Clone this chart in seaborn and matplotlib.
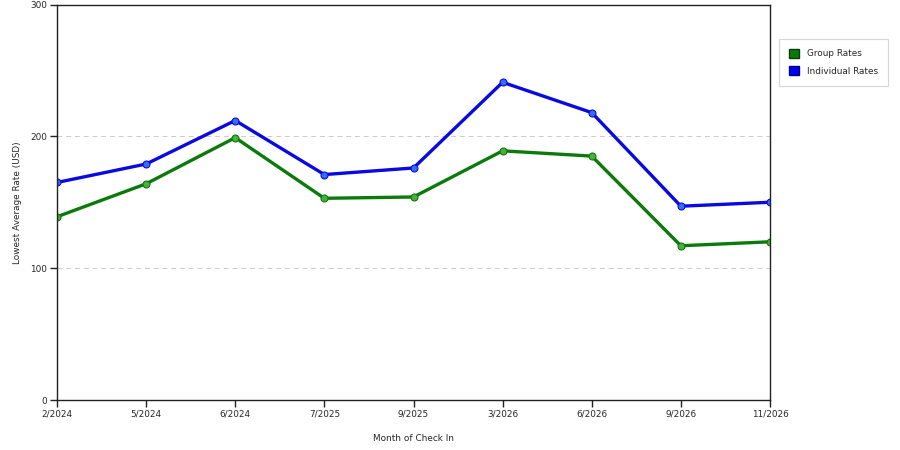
import matplotlib

matplotlib.use("Agg")
import matplotlib.pyplot as plt
import pandas as pd
import seaborn as sns
from matplotlib.patches import Patch

# ----------------------------------------------------------------------
# Data
# ----------------------------------------------------------------------
months = ["2/2024", "5/2024", "6/2024", "7/2025", "9/2025",
          "3/2026", "6/2026", "9/2026", "11/2026"]
group_rates = [139, 164, 199, 153, 154, 189, 185, 117, 120]
individual_rates = [165, 179, 212, 171, 176, 241, 218, 147, 150]
y_ticks = [0, 100, 200, 300]

GREEN = "#0b7a0b"
BLUE = "#0a0ae0"
FS = 6.4

sns.set_theme(style="white")
plt.rcParams["font.family"] = ["DejaVu Sans"]

df = pd.DataFrame({
    "pos": list(range(len(months))) * 2,
    "rate": group_rates + individual_rates,
    "series": ["Group Rates"] * len(months) + ["Individual Rates"] * len(months),
})

fig = plt.figure(figsize=(9, 4.5), dpi=100)
ax = fig.add_axes([57 / 900, 50 / 450, 713 / 900, 395.5 / 450])

sns.lineplot(
    data=df, x="pos", y="rate", hue="series",
    palette={"Group Rates": GREEN, "Individual Rates": BLUE},
    linewidth=2.4, marker="o", markersize=5,
    markeredgewidth=0.8, legend=False, ax=ax,
)
for line, c in zip(ax.lines, ["#4caf3c", "#3a6cf0"]):
    line.set_markerfacecolor(c)
    line.set_markeredgecolor(line.get_color())

ax.set_xlim(0, len(months) - 1)
ax.set_ylim(0, 300)
ax.set_xticks(range(len(months)))
ax.set_xticklabels(months)
ax.set_yticks(y_ticks)
for y in [100, 200]:
    ax.axhline(y, color="#cccccc", linestyle=(0, (5, 4)), linewidth=0.7, zorder=0)

for s in ax.spines.values():
    s.set_color("#222222")
    s.set_linewidth(1.0)
ax.tick_params(axis="both", direction="out", length=5, width=1,
               color="#222222", labelsize=FS, pad=2, bottom=True, left=True)
ax.set_xlabel("Month of Check In", fontsize=FS, labelpad=11)
ax.set_ylabel("Lowest Average Rate (USD)", fontsize=FS)
ax.yaxis.set_label_coords(-(57 - 22) / 713, 0.5)

handles = [
    Patch(facecolor="#0b7a0b", edgecolor="#064006", label="Group Rates"),
    Patch(facecolor="#0000ee", edgecolor="#000080", label="Individual Rates"),
]
leg = fig.legend(
    handles=handles, loc="upper left", bbox_to_anchor=(779 / 900, 1 - 39 / 450),
    fontsize=FS, frameon=True, fancybox=False, handlelength=1.2, handleheight=1.2,
    borderpad=1.1, labelspacing=0.9, handletextpad=0.9, borderaxespad=0,
)
leg.get_frame().set_edgecolor("#cccccc")
leg.get_frame().set_linewidth(0.8)

fig.savefig("out.png", dpi=100)
